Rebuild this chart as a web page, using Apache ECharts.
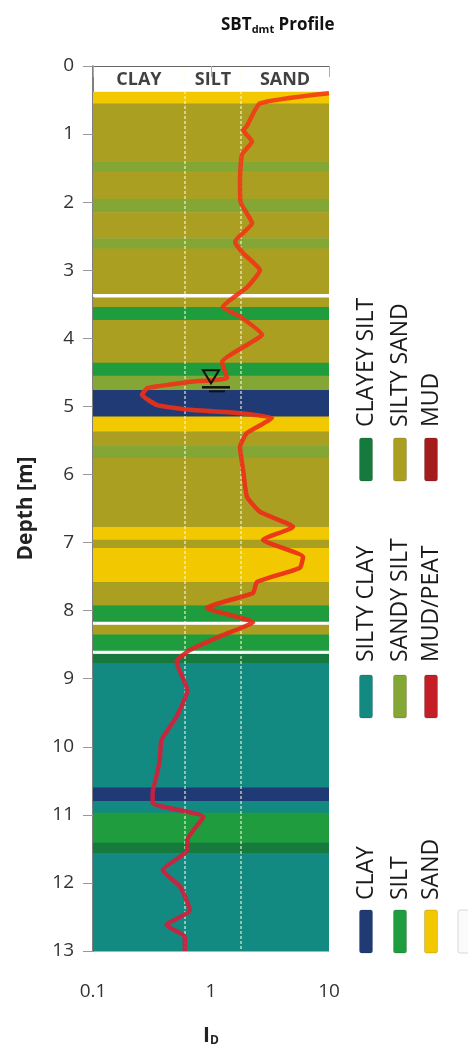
<!DOCTYPE html>
<html><head><meta charset="utf-8">
<script src="https://cdn.jsdelivr.net/npm/echarts@6/dist/echarts.min.js"></script>
<style>html,body{margin:0;padding:0;background:#fff}#c{width:468px;height:1052px}</style>
</head><body><div id="c"></div>
<script>
// ---- data ----
const depthTicks = [0,1,2,3,4,5,6,7,8,9,10,11,12,13];
const idTickLabels = ['0.1','1','10'];
const profileDepth = [0.40,0.55,0.89,0.94,1.11,1.30,1.67,2.00,2.31,2.58,2.75,3.00,3.25,3.54,3.68,3.95,4.07,4.35,4.58,4.64,4.73,4.83,4.98,5.05,5.10,5.17,5.39,5.60,5.93,6.33,6.55,6.77,6.96,7.21,7.37,7.58,7.74,7.96,8.17,8.36,8.58,8.75,9.17,9.56,9.90,10.15,10.39,10.68,10.83,11.03,11.37,11.52,11.81,12.06,12.40,12.62,12.79,13.00];
const profileID =    [10.0,2.60,2.00,1.87,2.23,1.83,1.76,1.78,2.23,1.60,1.87,2.60,2.02,1.26,1.76,2.71,2.14,1.24,1.37,0.66,0.29,0.26,0.35,0.66,1.76,3.29,2.02,1.76,1.87,2.02,2.60,4.95,2.76,6.02,5.68,2.45,2.27,0.92,2.27,1.26,0.66,0.51,0.63,0.51,0.38,0.37,0.35,0.32,0.32,0.86,0.63,0.63,0.39,0.55,0.66,0.42,0.60,0.60];
const layerTop =    [0.38,0.55,1.40,1.55,1.95,2.15,2.53,2.68,3.40,3.54,3.73,4.36,4.55,4.76,5.15,5.37,5.57,5.76,6.77,6.96,7.08,7.58,7.92,8.20,8.35,8.63,8.77,10.60,10.80,10.97,11.41,11.56];
const layerBottom = [0.55,1.40,1.55,1.95,2.15,2.53,2.68,3.35,3.54,3.73,4.36,4.55,4.76,5.15,5.37,5.57,5.76,6.77,6.96,7.08,7.58,7.92,8.17,8.35,8.59,8.77,10.60,10.80,10.97,11.41,11.56,13.00];
const layerType = ['SAND','SILTY SAND','SANDY SILT','SILTY SAND','SANDY SILT','SILTY SAND','SANDY SILT','SILTY SAND','SILTY SAND','SILT','SILTY SAND','SILT','SANDY SILT','CLAY','SAND','SILTY SAND','SANDY SILT','SILTY SAND','SAND','SILTY SAND','SAND','SILTY SAND','SILT','SILTY SAND','SILT','CLAYEY SILT','SILTY CLAY','CLAY','SILTY CLAY','SILT','CLAYEY SILT','SILTY CLAY'];
const whiteLineDepth = [3.37, 8.185, 8.61];
const zoneBounds = [0.6, 1.8];
const zoneNames = ['CLAY','SILT','SAND'];
const zoneCenters = [0.245, 1.04, 4.24];
const zoneLabelDepth = 0.2;
const waterTable = [1.0, 4.72];
const legendGroups = [['CLAYEY SILT','SILTY SAND','MUD'],['SILTY CLAY','SANDY SILT','MUD/PEAT'],['CLAY','SILT','SAND']];

const soilColors = {
  'CLAY':'#1f3a74','SILTY CLAY':'#128a82','CLAYEY SILT':'#167a3e','SILT':'#1e9c3e',
  'SANDY SILT':'#84a634','SILTY SAND':'#ab9f22','SAND':'#f2c800','MUD':'#a41c1c','MUD/PEAT':'#c41e26'
};

// ---- chart ----
const chart = echarts.init(document.getElementById('c'), null, {renderer:'canvas'});
const FONT = '"Open Sans", "Noto Sans", sans-serif';

const G = {left:93, right:139, top:66, bottom:101};

// legend graphics
const legendCols = [366, 400, 431];
const legendTextBottom = [427, 662, 900];
const legendSwatchTop = [438, 675, 910];
const graphics = [];
legendGroups.forEach((grp, gi) => {
  grp.forEach((name, ci) => {
    graphics.push({type:'text', x: legendCols[ci], y: legendTextBottom[gi], rotation: Math.PI/2,
      style:{text:name, font:'23px ' + FONT, fill:'#1a1a1a', align:'left', verticalAlign:'middle'}});
    graphics.push({type:'rect', shape:{x: legendCols[ci]-6.5, y: legendSwatchTop[gi], width:13, height:43, r:2},
      style:{fill: soilColors[name], stroke:'rgba(0,0,0,0.15)', lineWidth:1}});
  });
});
graphics.push({type:'rect', shape:{x:458, y:910, width:13, height:43, r:2}, style:{fill:'#fbfbfb', stroke:'#d8d8d8', lineWidth:1}});

const option = {
  animation:false,
  backgroundColor:'#fff',
  title:{
    text:'{a|SBT}{b|dmt}{a| Profile}', left:216, top:9,
    textStyle:{rich:{
      a:{fontFamily:FONT, fontSize:17, fontWeight:'bold', color:'#111', lineHeight:22},
      b:{fontFamily:FONT, fontSize:11, fontWeight:'bold', color:'#111', padding:[9,0,0,0], lineHeight:22}
    }}
  },
  grid:G,
  xAxis:{
    type:'log', logBase:10, min:0.1, max:10, z:5,
    name:'{i|I}{d|D}', nameLocation:'middle', nameGap:74,
    nameTextStyle:{rich:{
      i:{fontFamily:FONT, fontSize:21, fontWeight:'bold', color:'#222'},
      d:{fontFamily:FONT, fontSize:12, fontWeight:'bold', color:'#222', padding:[10,0,0,0]}
    }},
    axisLine:{show:true, lineStyle:{color:'#666', width:1}},
    axisTick:{show:true, length:11, lineStyle:{color:'#aaa'}},
    minorTick:{show:false},
    splitLine:{show:false},
    axisLabel:{margin:31, fontFamily:FONT, fontSize:19, color:'#333',
      formatter:(v)=>{const i=Math.round(Math.log10(v))+1; return idTickLabels[i]!==undefined?idTickLabels[i]:'';}}
  },
  yAxis:{
    type:'value', inverse:true, min:0, max:13, interval:1, z:1,
    name:'Depth [m]', nameLocation:'middle', nameGap:56,
    nameTextStyle:{fontFamily:FONT, fontSize:21, fontWeight:'bold', color:'#222'},
    axisLine:{show:true, lineStyle:{color:'#555', width:1.5}},
    axisTick:{show:true, length:10, lineStyle:{color:'#999'}},
    splitLine:{show:false},
    axisLabel:{margin:19, fontFamily:FONT, fontSize:19, color:'#333',
      formatter:(v)=> depthTicks.indexOf(v)>=0 ? String(v) : ''}
  },
  graphic:graphics,
  series:[
    {
      type:'custom', name:'layers', z:2,
      encode:{x:[0,1], y:[2,3]},
      data: layerTop.map((t,i)=>[0.1, 10, t, layerBottom[i]]),
      renderItem:(params, api)=>{
        const p0 = api.coord([api.value(0), api.value(2)]);
        const p1 = api.coord([api.value(1), api.value(3)]);
        return {type:'rect', shape:{x:p0[0], y:p0[1], width:p1[0]-p0[0], height:p1[1]-p0[1]+0.5},
          style:{fill: soilColors[layerType[params.dataIndex]]}};
      },
      markLine:{
        silent:true, symbol:'none', label:{show:false},
        lineStyle:{color:'rgba(255,255,225,0.7)', type:[3,2], width:1.5},
        data: zoneBounds.map(b=>({xAxis:b}))
      }
    },
    {
      type:'custom', name:'gaps', z:3,
      encode:{x:[0,1], y:2},
      data: whiteLineDepth.map(d=>[0.1, 10, d]),
      renderItem:(params, api)=>{
        const p0 = api.coord([api.value(0), api.value(2)]);
        const p1 = api.coord([api.value(1), api.value(2)]);
        return {type:'rect', shape:{x:p0[0], y:p0[1]-1.5, width:p1[0]-p0[0], height:3}, style:{fill:'#ffffff'}};
      }
    },
    {
      type:'scatter', name:'zones', z:4, symbolSize:0,
      data: zoneCenters.map(c=>[c, zoneLabelDepth]),
      label:{show:true, position:'inside', formatter:(p)=>zoneNames[p.dataIndex],
        fontFamily:FONT, fontSize:18, fontWeight:'bold', color:'#111'}
    },
    {
      type:'line', name:'ID', z:6, showSymbol:false, smooth:0.15,
      data: profileID.map((v,i)=>[v, profileDepth[i]]),
      lineStyle:{width:4.5, color:{type:'linear', x:0, y:0, x2:0, y2:1, colorStops:[
        {offset:0, color:'rgba(242,60,20,0.9)'},
        {offset:0.62, color:'rgba(236,40,24,0.9)'},
        {offset:0.68, color:'rgba(214,30,56,0.9)'},
        {offset:1, color:'rgba(208,30,60,0.9)'}
      ]}}
    },
    {
      type:'custom', name:'water', z:7,
      data:[waterTable],
      renderItem:(params, api)=>{
        const p = api.coord([api.value(0), api.value(1)]);
        return {type:'group', children:[
          {type:'polygon', shape:{points:[[p[0]-8,p[1]-17],[p[0]+8,p[1]-17],[p[0],p[1]-4]]},
            style:{fill:'none', stroke:'#111', lineWidth:2}},
          {type:'line', shape:{x1:p[0]-9, y1:p[1], x2:p[0]+19, y2:p[1]}, style:{stroke:'#111', lineWidth:2.5}},
          {type:'line', shape:{x1:p[0]-2, y1:p[1]+4, x2:p[0]+14, y2:p[1]+4}, style:{stroke:'#111', lineWidth:2}}
        ]};
      }
    }
  ]
};
chart.setOption(option);
</script></body></html>
